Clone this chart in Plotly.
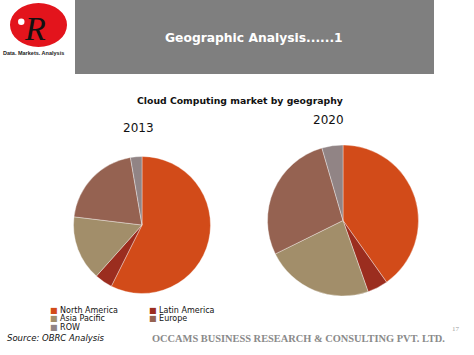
import plotly.graph_objects as go

# ---- data ----
regions = ["North America", "Latin America", "Asia Pacific", "Europe", "ROW"]
share_2013 = [57.4, 4.2, 15.3, 20.4, 2.7]
share_2020 = [40.2, 4.4, 23.1, 27.8, 4.5]
years = ["2013", "2020"]
colors = ["#D24B19", "#9B2D1F", "#A28E6A", "#956251", "#918485"]

W, H = 474, 355


def X(px):
    return px / W


def Y(py):
    return 1 - py / H


fig = go.Figure()

pie_geo = [
    dict(cx=142, cy=225, r=68.5),
    dict(cx=343, cy=220.5, r=75.5),
]
for vals, geo in zip([share_2013, share_2020], pie_geo):
    fig.add_trace(go.Pie(
        labels=regions,
        values=vals,
        sort=False,
        direction="clockwise",
        rotation=0,
        textinfo="none",
        hoverinfo="label+percent",
        showlegend=False,
        marker=dict(colors=colors, line=dict(color="rgba(255,255,255,0.6)", width=0.6)),
        domain=dict(x=[X(geo["cx"] - geo["r"]), X(geo["cx"] + geo["r"])],
                    y=[Y(geo["cy"] + geo["r"]), Y(geo["cy"] - geo["r"])]),
    ))

shapes = [
    # title bar
    dict(type="rect", xref="paper", yref="paper", x0=X(75), x1=X(434), y0=Y(74), y1=Y(0),
         fillcolor="#7F7F7F", line=dict(width=0), layer="below"),
    # logo
    dict(type="circle", xref="paper", yref="paper", x0=X(10), x1=X(67), y0=Y(47), y1=Y(3),
         fillcolor="#E3141C", line=dict(width=0)),
    dict(type="circle", xref="paper", yref="paper", x0=X(18), x1=X(24.5), y0=Y(25), y1=Y(18.5),
         fillcolor="white", line=dict(width=0)),
]

annotations = [
    dict(text="<i>R</i>", x=X(35), y=Y(28), font=dict(family="Liberation Serif", size=34, color="#111111")),
    dict(text="<b>Data. Markets. Analysis</b>", x=X(33), y=Y(52.5),
         font=dict(family="Liberation Sans Narrow, Liberation Sans", size=5.5, color="#222222")),
    dict(text="<b>Geographic Analysis......1</b>", x=X(254), y=Y(38),
         font=dict(family="DejaVu Sans", size=12.3, color="white")),
    dict(text="<b>Cloud Computing market by geography</b>", x=X(240), y=Y(100),
         font=dict(family="DejaVu Sans", size=9.3, color="#111111")),
    dict(text=years[0], x=X(138), y=Y(128), font=dict(family="DejaVu Sans", size=12, color="#111111")),
    dict(text=years[1], x=X(328), y=Y(120), font=dict(family="DejaVu Sans", size=12, color="#111111")),
    dict(text="<i>Source: OBRC Analysis</i>", x=X(5), y=Y(338), xanchor="left",
         font=dict(family="DejaVu Sans", size=8.5, color="#111111")),
    dict(text="<b>OCCAMS BUSINESS RESEARCH &amp; CONSULTING PVT. LTD.</b>", x=X(298), y=Y(338.5),
         font=dict(family="Liberation Serif", size=10.4, color="#8A8A8A")),
    dict(text="17", x=X(456), y=Y(329), font=dict(family="Liberation Serif", size=7, color="#A0A0A0")),
]

# legend built from categories
for i, (cat, col) in enumerate(zip(regions, colors)):
    c, r = i % 2, i // 2
    annotations.append(dict(
        text=f'<span style="color:{col}">■</span> {cat}',
        x=X(48 + c * 99), y=Y(310.5 + r * 8.4), xanchor="left",
        font=dict(family="DejaVu Sans", size=8, color="#111111"),
    ))

for a in annotations:
    a.setdefault("xref", "paper")
    a.setdefault("yref", "paper")
    a.setdefault("showarrow", False)
    a.setdefault("xanchor", "center")
    a.setdefault("yanchor", "middle")

fig.update_layout(
    width=W, height=H,
    margin=dict(l=0, r=0, t=0, b=0),
    paper_bgcolor="white",
    plot_bgcolor="white",
    shapes=shapes,
    annotations=annotations,
)

fig.write_html("out.html", config={"displayModeBar": False},
               post_script="document.body.style.margin='0px';document.body.style.overflow='hidden';")
